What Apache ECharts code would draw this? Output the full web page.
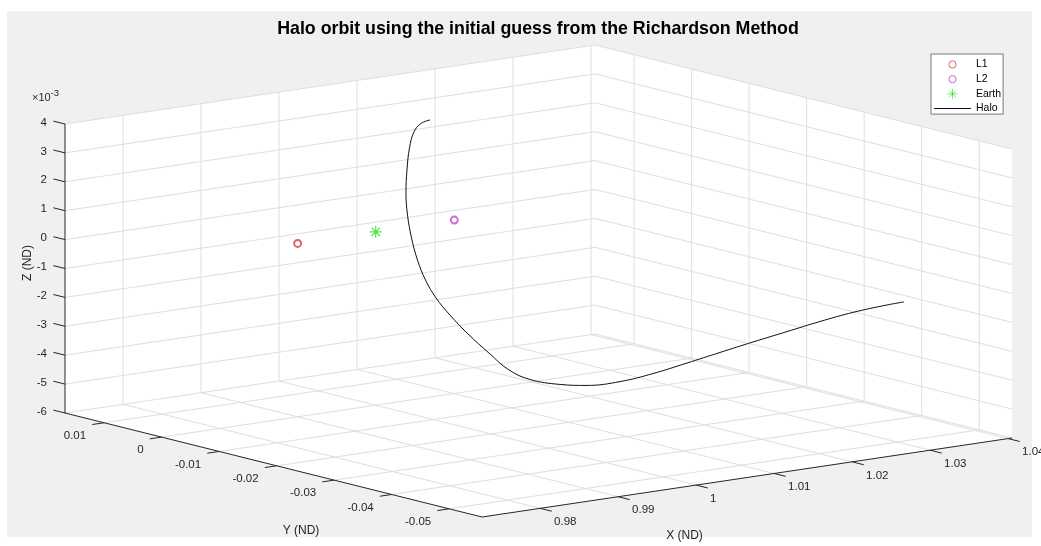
<!DOCTYPE html>
<html>
<head>
<meta charset="utf-8">
<script src="https://cdn.jsdelivr.net/npm/echarts@6/dist/echarts.min.js"></script>
<style>
html,body{margin:0;padding:0;background:#fff;}
#chart{width:1041px;height:546px;}
</style>
</head>
<body>
<div id="chart"></div>
<script>
// ---------------- data ----------------
const TITLE = 'Halo orbit using the initial guess from the Richardson Method';
const X_NAME = 'X (ND)';
const Y_NAME = 'Y (ND)';
const Z_NAME = 'Z (ND)';
const X_LIMITS = [0.97255, 1.0405];
const Y_LIMITS = [-0.0557, 0.0168];
const Z_LIMITS = [-0.006, 0.004];
const X_TICKS = [0.98, 0.99, 1.00, 1.01, 1.02, 1.03, 1.04];
const X_TICK_LABELS = ['0.98', '0.99', '1', '1.01', '1.02', '1.03', '1.04'];
const Y_TICKS = [0.01, 0, -0.01, -0.02, -0.03, -0.04, -0.05];
const Y_TICK_LABELS = ['0.01', '0', '-0.01', '-0.02', '-0.03', '-0.04', '-0.05'];
const Z_TICKS = [0.004, 0.003, 0.002, 0.001, 0, -0.001, -0.002, -0.003, -0.004, -0.005, -0.006];
const Z_TICK_LABELS = ['4', '3', '2', '1', '0', '-1', '-2', '-3', '-4', '-5', '-6'];
const Z_EXP_BASE = '\u00d710';
const Z_EXP_POWER = '-3';
const SERIES_NAMES = ['L1', 'L2', 'Earth', 'Halo'];
const L1_POINT = [0.98999, 0, 0];
const L2_POINT = [1.01007, 0, 0];
const EARTH_POINT = [0.999997, 0, 0];
const HALO_X = [1.00696, 1.00639, 1.00601, 1.00610, 1.00629, 1.00646, 1.00673, 1.00695, 1.00712, 1.00734,
                1.00773, 1.00834, 1.00903, 1.00966, 1.00986, 1.01004, 1.01124, 1.01234, 1.01436, 1.01652,
                1.01911, 1.02172, 1.02448, 1.02758, 1.03078, 1.03413, 1.03775, 1.03963];
const HALO_Y = [0, 0.0008, 0.0015, 0.0024, 0.0031, 0.0035, 0.0036, 0.0032, 0.0024, 0.0013,
                0, -0.0016, -0.0038, -0.0066, -0.0098, -0.0132, -0.0168, -0.0200, -0.0230, -0.0258,
                -0.0282, -0.0304, -0.0324, -0.0341, -0.0355, -0.0367, -0.0377, -0.0381];
const HALO_Z = [0.00359, 0.00345, 0.00314, 0.00254, 0.00173, 0.00091, 0.00013, -0.00065, -0.00138, -0.00203,
                -0.00260, -0.00314, -0.00371, -0.00426, -0.00469, -0.00486, -0.00490, -0.00482, -0.00462, -0.00429,
                -0.00391, -0.00354, -0.00319, -0.00287, -0.00258, -0.00234, -0.00218, -0.00213];

// ---------------- layout / style ----------------
const FONT = '"Liberation Sans", Arial, Helvetica, sans-serif';
const AXIS_COLOR = '#262626';
const GRID_COLOR = '#dedede';
// projected (right, up) pixel extent of each full axis range; origin = (xmin, ymin, zmin) corner
const VIEW = { origin: [482, 517], ex: [530, 79], ey: [-417, 104], ez: [0, 289] };
const TICK_LEN = 12;
const COLORS = { L1: '#d93b3b', L2: '#c63fcf', Earth: '#22dd22', Halo: '#111111' };
const RING_ICON = 'path://M0 0M10 10M8.6 5A3.6 3.6 0 1 0 1.4 5A3.6 3.6 0 1 0 8.6 5Z';
const STAR_ICON = 'path://M5 0L5 10M0 5L10 5M1.5 1.5L8.5 8.5M1.5 8.5L8.5 1.5';

function norm(v, lim) { return (v - lim[0]) / (lim[1] - lim[0]); }
function proj(x, y, z) {
  const nx = norm(x, X_LIMITS), ny = norm(y, Y_LIMITS), nz = norm(z, Z_LIMITS);
  return [nx * VIEW.ex[0] + ny * VIEW.ey[0] + nz * VIEW.ez[0],
          nx * VIEW.ex[1] + ny * VIEW.ey[1] + nz * VIEW.ez[1]];
}
const corners = [];
[0, 1].forEach(i => [0, 1].forEach(j => [0, 1].forEach(k =>
  corners.push(proj(X_LIMITS[i], Y_LIMITS[j], Z_LIMITS[k])))));
const pMin = Math.min(...corners.map(c => c[0])), pMax = Math.max(...corners.map(c => c[0]));
const qMin = Math.min(...corners.map(c => c[1])), qMax = Math.max(...corners.map(c => c[1]));

const haloData = HALO_X.map((x, i) => proj(x, HALO_Y[i], HALO_Z[i]));

function renderAxes(params, api) {
  const P = (x, y, z) => api.coord(proj(x, y, z));
  const [x0, x1] = X_LIMITS, [y0, y1] = Y_LIMITS, [z0, z1] = Z_LIMITS;
  const ch = [];
  ch.push({ type: 'polygon', shape: { points: [P(x0, y1, z1), P(x1, y1, z1), P(x1, y0, z1), P(x1, y0, z0), P(x0, y0, z0), P(x0, y1, z0)] },
            style: { fill: '#ffffff' } });
  const seg = (a, b, color, w) => ch.push({ type: 'line', shape: { x1: a[0], y1: a[1], x2: b[0], y2: b[1] },
                                              style: { stroke: color, lineWidth: w } });
  // floor
  X_TICKS.forEach(x => seg(P(x, y0, z0), P(x, y1, z0), GRID_COLOR, 1));
  Y_TICKS.forEach(y => seg(P(x0, y, z0), P(x1, y, z0), GRID_COLOR, 1));
  // back wall (y = ymax)
  X_TICKS.forEach(x => seg(P(x, y1, z0), P(x, y1, z1), GRID_COLOR, 1));
  Z_TICKS.forEach(z => seg(P(x0, y1, z), P(x1, y1, z), GRID_COLOR, 1));
  // side wall (x = xmax)
  Y_TICKS.forEach(y => seg(P(x1, y, z0), P(x1, y, z1), GRID_COLOR, 1));
  Z_TICKS.forEach(z => seg(P(x1, y0, z), P(x1, y1, z), GRID_COLOR, 1));
  // axis lines
  seg(P(x0, y1, z0), P(x0, y1, z1), AXIS_COLOR, 1);
  seg(P(x0, y1, z0), P(x0, y0, z0), AXIS_COLOR, 1);
  seg(P(x0, y0, z0), P(x1, y0, z0), AXIS_COLOR, 1);
  // unit directions
  const unit = (a, b) => { const dx = b[0] - a[0], dy = b[1] - a[1], l = Math.hypot(dx, dy); return [dx / l, dy / l]; };
  const dX = unit(P(x0, y0, z0), P(x1, y0, z0));
  const dY = unit(P(x0, y0, z0), P(x0, y1, z0));
  const txt = (s, pt, align, size, extra) => ch.push(Object.assign({ type: 'text', x: pt[0], y: pt[1],
      style: { text: s, fill: AXIS_COLOR, fontSize: size, fontFamily: FONT, align: align, verticalAlign: 'middle' } }, extra || {}));
  // Z ticks + labels
  Z_TICKS.forEach((z, i) => {
    const a = P(x0, y1, z);
    seg(a, [a[0] + dY[0] * TICK_LEN, a[1] + dY[1] * TICK_LEN], AXIS_COLOR, 1);
    txt(Z_TICK_LABELS[i], [a[0] - 18, a[1] - 1.5], 'right', 11.5);
  });
  // Y ticks + labels
  Y_TICKS.forEach((y, i) => {
    const a = P(x0, y, z0);
    seg(a, [a[0] - dX[0] * TICK_LEN, a[1] - dX[1] * TICK_LEN], AXIS_COLOR, 1);
    txt(Y_TICK_LABELS[i], [a[0] - 18, a[1] + 13], 'right', 11.5);
  });
  // X ticks + labels
  X_TICKS.forEach((x, i) => {
    const a = P(x, y0, z0);
    seg(a, [a[0] - dY[0] * TICK_LEN, a[1] - dY[1] * TICK_LEN], AXIS_COLOR, 1);
    txt(X_TICK_LABELS[i], [a[0] + 14, a[1] + 13.5], 'left', 11.5);
  });
  // exponent
  const top = P(x0, y1, z1);
  txt(Z_EXP_BASE, [top[0] - 33, top[1] - 26], 'left', 11);
  txt(Z_EXP_POWER, [top[0] - 14.5, top[1] - 31], 'left', 9.5);
  // axis names
  const zm = P(x0, y1, (z0 + z1) / 2);
  txt(Z_NAME, [zm[0] - 37, zm[1] - 5.5], 'center', 12, { rotation: Math.PI / 2 });
  const ym = P(x0, (y0 + y1) / 2, z0);
  txt(Y_NAME, [ym[0] + 27.5, ym[1] + 66], 'center', 12);
  const xm = P((x0 + x1) / 2, y0, z0);
  txt(X_NAME, [xm[0] - 62.5, xm[1] + 58.5], 'center', 12);
  return { type: 'group', children: ch };
}

const chart = echarts.init(document.getElementById('chart'), null, { renderer: 'canvas' });
chart.setOption({
  animation: false,
  backgroundColor: '#ffffff',
  graphic: [{ type: 'rect', z: -10, silent: true, shape: { x: 7, y: 11, width: 1025, height: 526 }, style: { fill: '#f0f0f0' } }],
  title: {
    text: TITLE, left: 538, top: 20, textAlign: 'center', padding: 0,
    textStyle: { fontFamily: FONT, fontSize: 17.8, fontWeight: 'bold', color: '#000' }
  },
  legend: {
    orient: 'vertical', left: 931, top: 54, itemWidth: 37, itemHeight: 10, itemGap: 3.7,
    padding: [5, 2, 0, 3], backgroundColor: '#ffffff', borderColor: AXIS_COLOR, borderWidth: 0.6, borderRadius: 0,
    textStyle: { fontFamily: FONT, fontSize: 10.5, color: '#000' },
    data: [
      { name: SERIES_NAMES[0], icon: RING_ICON, itemStyle: { color: '#ffffff', borderColor: COLORS.L1, borderWidth: 1 } },
      { name: SERIES_NAMES[1], icon: RING_ICON, itemStyle: { color: '#ffffff', borderColor: COLORS.L2, borderWidth: 1 } },
      { name: SERIES_NAMES[2], itemStyle: { color: COLORS.Earth, borderColor: COLORS.Earth, borderWidth: 0.8 } },
      { name: SERIES_NAMES[3], icon: 'path://M0 0H37V1H0Z' }
    ]
  },
  grid: { left: VIEW.origin[0] + pMin, top: VIEW.origin[1] - qMax, width: pMax - pMin, height: qMax - qMin, containLabel: false },
  xAxis: { type: 'value', min: pMin, max: pMax, show: false },
  yAxis: { type: 'value', min: qMin, max: qMax, show: false },
  series: [
    { type: 'custom', name: 'axes3d', silent: true, z: 1, clip: false, data: [[0, 0]], renderItem: renderAxes },
    { type: 'scatter', name: SERIES_NAMES[0], z: 5, data: [proj(...L1_POINT)], symbol: 'emptyCircle', symbolSize: 7,
      itemStyle: { color: COLORS.L1, borderWidth: 1 } },
    { type: 'scatter', name: SERIES_NAMES[1], z: 5, data: [proj(...L2_POINT)], symbol: 'emptyCircle', symbolSize: 7,
      itemStyle: { color: COLORS.L2, borderWidth: 1 } },
    { type: 'scatter', name: SERIES_NAMES[2], z: 5, data: [proj(...EARTH_POINT)],
      symbol: STAR_ICON, symbolSize: 12,
      itemStyle: { color: COLORS.Earth, borderColor: COLORS.Earth, borderWidth: 1.2 } },
    { type: 'line', name: SERIES_NAMES[3], z: 4, data: haloData, showSymbol: false, symbol: 'none', smooth: 0.4,
      lineStyle: { color: COLORS.Halo, width: 1 }, itemStyle: { color: COLORS.Halo } }
  ]
});
</script>
</body>
</html>
